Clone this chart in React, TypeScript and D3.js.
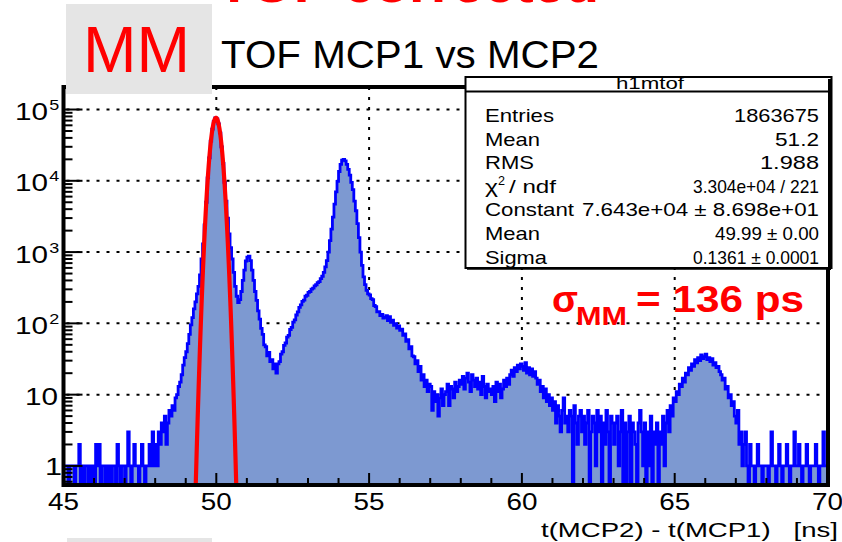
import React from 'react';
import * as d3 from 'd3';

// ---------- data ----------
const X_MIN = 45;
const X_MAX = 70;
const BIN_WIDTH = 0.05;
const Y_MIN = 0.54;
const Y_MAX = 2.07e5;

// bin contents, 0.05 ns bins
const counts45to50 = [
  1, 1, 1, 0, 1, 1, 1, 0, 1, 1,
  2, 0, 1, 0, 1, 1, 0, 1, 0, 1,
  0, 2, 1, 2, 0, 1, 1, 0, 1, 0,
  1, 0, 1, 1, 0, 2, 1, 0, 1, 1,
  0, 1, 3, 1, 0, 1, 2, 1, 1, 0,
  1, 2, 1, 0, 1, 1, 2, 1, 3, 1,
  2, 1, 3, 2, 4, 3, 5, 2, 4, 6,
  5, 7, 6, 9, 10, 13, 15, 19, 26, 33,
  40, 52, 70, 95, 120, 160, 200, 260, 330, 480,
  800, 1300, 2400, 5000, 11000, 21000, 36000, 53000, 68000, 76500,
];
const counts50to55 = [
  74000, 63000, 47000, 30000, 17500, 9500, 5200, 3000, 1800, 1150,
  800, 520, 330, 240, 196, 215, 280, 400, 560, 750,
  850, 880, 760, 560, 400, 280, 210, 150, 115, 85,
  70, 50, 47, 35, 39, 29, 31, 23, 27, 20,
  27, 29, 37, 40, 49, 53, 64, 68, 82, 88,
  104, 112, 131, 145, 168, 182, 203, 212, 240, 248,
  272, 280, 302, 312, 335, 348, 372, 386, 425, 458,
  520, 620, 760, 1000, 1450, 2100, 3100, 4700, 7000, 9800,
  13500, 17000, 19500, 20000, 19000, 17000, 14500, 12000, 9500, 7500,
  5200, 3800, 2500, 1600, 1000, 650, 450, 350, 290, 260,
];
const counts55to60 = [
  250, 222, 215, 178, 172, 145, 146, 128, 134, 119,
  121, 128, 109, 124, 103, 111, 94, 99, 86, 92,
  80, 83, 68, 71, 56, 59, 44, 47, 35, 34,
  27, 30, 21, 25, 16, 19, 13, 16, 11, 14,
  13, 6, 11, 8, 10, 5, 9, 12, 7, 10,
  11, 14, 7, 13, 12, 9, 15, 11, 13, 16,
  14, 18, 12, 17, 20, 15, 11, 19, 16, 13,
  17, 12, 15, 10, 18, 13, 9, 14, 11, 12,
  10, 13, 8, 15, 11, 14, 9, 12, 16, 13,
  17, 14, 19, 22, 18, 24, 21, 26, 23, 27,
];
const counts60to65 = [
  25, 22, 28, 20, 24, 19, 23, 18, 21, 17,
  14, 16, 11, 13, 9, 12, 8, 10, 7, 9,
  6, 8, 4, 7, 5, 3, 6, 9, 4, 5,
  3, 6, 5, 0, 7, 4, 2, 5, 6, 3,
  5, 2, 4, 6, 0, 3, 5, 4, 1, 6,
  3, 5, 0, 4, 2, 6, 3, 0, 5, 4,
  2, 4, 5, 1, 3, 6, 0, 4, 0, 3,
  5, 0, 4, 3, 2, 0, 4, 6, 3, 1,
  4, 0, 3, 1, 5, 0, 3, 2, 4, 0,
  3, 2, 5, 1, 4, 6, 3, 7, 5, 9,
];
const counts65to70 = [
  8, 11, 10, 14, 13, 17, 15, 20, 19, 24,
  22, 27, 25, 31, 28, 33, 30, 36, 32, 34,
  37, 31, 33, 29, 32, 26, 28, 24, 25, 21,
  19, 16, 17, 12, 13, 9, 10, 7, 8, 5,
  4, 6, 2, 3, 1, 2, 3, 1, 0, 2,
  1, 1, 0, 1, 2, 1, 1, 0, 1, 1,
  1, 0, 1, 3, 1, 1, 0, 1, 2, 1,
  0, 1, 1, 2, 1, 0, 1, 1, 3, 1,
  1, 2, 1, 0, 1, 1, 2, 1, 0, 1,
  1, 1, 2, 1, 0, 1, 1, 3, 1, 1,
];

const X_TICKS = [45, 50, 55, 60, 65, 70];
const X_GRID = [50, 55, 60, 65];
const Y_EXPONENTS = [0, 1, 2, 3, 4, 5];

// Gaussian fit parameters
const FIT_CONSTANT = 7.643e4;
const FIT_MEAN = 49.99;
const FIT_SIGMA = 0.1361;

const STATS_TITLE = 'h1mtof';
const STATS_LABELS = ['Entries', 'Mean', 'RMS', 'χ2 / ndf', 'Constant', 'Mean', 'Sigma'];
const STATS_VALUES = [
  '1863675',
  '51.2',
  '1.988',
  '3.304e+04 / 221',
  '7.643e+04 ± 8.698e+01',
  '49.99 ± 0.00',
  '0.1361 ± 0.0001',
];

const TITLE = 'TOF MCP1 vs MCP2';
const X_TITLE = 't(MCP2) - t(MCP1)   [ns]';
const PAD_LABEL = 'MM';
const TOP_LABEL = 'TOF corrected';
const SIGMA_VALUE = '= 136 ps';

// ---------- style ----------
const FONT = '"Liberation Sans", Arial, Helvetica, sans-serif';
const LABEL_W = [69, 55, 49, 72, 89, 55, 62];
const VALUE_W = [85, 44, 59, 126, 237, 104, 126];

type TxtProps = {
  x: number;
  y: number;
  w: number;
  size: number;
  anchor?: 'start' | 'middle' | 'end';
  fill?: string;
  weight?: string;
  pre?: boolean;
  children: React.ReactNode;
};

function Txt({ x, y, w, size, anchor = 'start', fill = '#000', weight = 'normal', pre, children }: TxtProps) {
  const start = anchor === 'start' ? x : anchor === 'end' ? x - w : x - w / 2;
  return (
    <text
      x={start}
      y={y}
      fontSize={size}
      textLength={w}
      lengthAdjust="spacingAndGlyphs"
      fill={fill}
      fontWeight={weight}
      fontFamily={FONT}
      style={pre ? { whiteSpace: 'pre' } : undefined}
    >
      {children}
    </text>
  );
}

export default function App() {
  const counts = [...counts45to50, ...counts50to55, ...counts55to60, ...counts60to65, ...counts65to70];

  const left = 63.5;
  const right = 827.5;
  const top = 87;
  const bottom = 485;

  const x = d3.scaleLinear().domain([X_MIN, X_MAX]).range([left, right]);
  const y = d3.scaleLog().domain([Y_MIN, Y_MAX]).range([bottom, top]);
  const yc = (v: number) => y(Math.max(v, Y_MIN));

  let hist = `M${x(X_MIN)},${bottom}`;
  counts.forEach((c, i) => {
    const x1 = x(X_MIN + (i + 1) * BIN_WIDTH);
    hist += `V${yc(c)}H${x1}`;
  });
  hist += `V${bottom}`;

  const gaus = (t: number) => FIT_CONSTANT * Math.exp(-0.5 * ((t - FIT_MEAN) / FIT_SIGMA) ** 2);
  const fitXs = d3.range(49.0, 51.0, 0.003);
  const fitLine = d3
    .line<number>()
    .x((t) => x(t))
    .y((t) => y(Math.max(gaus(t), 0.05)))(fitXs) as string;

  // ticks
  const xMinor: number[] = d3.range(X_MIN, X_MAX + 0.001, 1).filter((v) => !X_TICKS.includes(v));
  const yMinor: number[] = [];
  for (let k = -1; k <= 5; k++) {
    for (let m = 2; m <= 9; m++) {
      const v = m * Math.pow(10, k);
      if (v >= Y_MIN && v <= Y_MAX) yMinor.push(v);
    }
  }

  const statsBase = (i: number) => 122 + 23.6 * i;

  return (
    <svg
      width={842}
      height={542}
      style={{ position: 'absolute', left: 0, top: 0, background: '#fff' }}
      fontFamily={FONT}
    >
      <defs>
        <clipPath id="plotClip">
          <rect x={left} y={top} width={right - left} height={bottom - top} />
        </clipPath>
      </defs>
      <rect x={0} y={0} width={842} height={542} fill="#fff" />

      {/* red text cut at top */}
      <Txt x={217} y={2} w={382} size={52} fill="#ff0000" weight="bold">
        {TOP_LABEL}
      </Txt>

      {/* grid */}
      <g stroke="#000" strokeWidth={2} strokeDasharray="3 7">
        {Y_EXPONENTS.map((k) => (
          <line key={`gy${k}`} x1={left + 3} x2={right} y1={y(Math.pow(10, k))} y2={y(Math.pow(10, k))} />
        ))}
        {X_GRID.map((v) => (
          <line key={`gx${v}`} x1={x(v)} x2={x(v)} y1={top} y2={bottom} />
        ))}
      </g>

      {/* histogram */}
      <g clipPath="url(#plotClip)">
        <path d={hist + 'Z'} fill="#7d99d1" stroke="none" />
        <path d={hist} fill="none" stroke="#0000ff" strokeWidth={2.8} strokeLinejoin="miter" />
        <path d={fitLine} fill="none" stroke="#ff0000" strokeWidth={4.2} />
      </g>

      {/* frame */}
      <rect x={left} y={top} width={right - left + 0.5} height={bottom - top} fill="none" stroke="#000" strokeWidth={4} />

      {/* ticks */}
      <g stroke="#000" strokeWidth={2}>
        {X_TICKS.map((v) => (
          <line key={`xt${v}`} x1={x(v)} x2={x(v)} y1={bottom} y2={bottom - 12} />
        ))}
        {xMinor.map((v) => (
          <line key={`xm${v}`} x1={x(v)} x2={x(v)} y1={bottom} y2={bottom - 7} />
        ))}
        {Y_EXPONENTS.map((k) => (
          <line key={`yt${k}`} x1={left} x2={left + 19} y1={y(Math.pow(10, k))} y2={y(Math.pow(10, k))} />
        ))}
        {yMinor.map((v, i) => (
          <line key={`ym${i}`} x1={left} x2={left + 9} y1={y(v)} y2={y(v)} />
        ))}
      </g>

      {/* x tick labels */}
      {X_TICKS.map((v) => (
        <Txt key={`xl${v}`} x={x(v)} y={510} w={31} size={23} anchor="middle">
          {String(v)}
        </Txt>
      ))}

      {/* y tick labels */}
      {Y_EXPONENTS.map((k) => {
        const ty = y(Math.pow(10, k));
        if (k === 0)
          return (
            <Txt key={`yl${k}`} x={45} y={ty + 9} w={17} size={23}>
              1
            </Txt>
          );
        if (k === 1)
          return (
            <Txt key={`yl${k}`} x={25} y={ty + 10.5} w={33} size={23}>
              10
            </Txt>
          );
        return (
          <g key={`yl${k}`}>
            <Txt x={15} y={ty + 10.5} w={33} size={23}>
              10
            </Txt>
            <Txt x={49.3} y={ty + 0.5} w={10} size={15}>
              {String(k)}
            </Txt>
          </g>
        );
      })}

      {/* x title */}
      <Txt x={541} y={537} w={297} size={21} pre>
        {X_TITLE}
      </Txt>

      {/* pad label box */}
      <rect x={66} y={4} width={146} height={90} fill="#e5e5e5" />
      <Txt x={83} y={72} w={107} size={64.5} fill="#ff0000">
        {PAD_LABEL}
      </Txt>
      <rect x={67} y={538} width={145} height={6} fill="#e5e5e5" />

      {/* title */}
      <Txt x={221} y={68} w={378} size={38.5}>
        {TITLE}
      </Txt>

      {/* stats box */}
      <rect x={465.5} y={77} width={366} height={191} fill="#fff" stroke="#000" strokeWidth={2} />
      <line x1={829.5} x2={829.5} y1={79} y2={270} stroke="#000" strokeWidth={3} />
      <line x1={467} x2={831} y1={268.5} y2={268.5} stroke="#000" strokeWidth={2.5} />
      <line x1={465.5} x2={831.5} y1={91.5} y2={91.5} stroke="#000" strokeWidth={2} />
      <Txt x={650} y={89} w={68} size={16} anchor="middle">
        {STATS_TITLE}
      </Txt>
      {STATS_LABELS.map((lab, i) => {
        const b = statsBase(i);
        if (lab.startsWith('χ')) {
          return (
            <g key={`sl${i}`}>
              <Txt x={485} y={b} w={13} size={18.5}>
                χ
              </Txt>
              <Txt x={498} y={b - 8} w={7} size={12}>
                2
              </Txt>
              <Txt x={509} y={b} w={47} size={18.5}>
                {lab.slice(3)}
              </Txt>
            </g>
          );
        }
        return (
          <Txt key={`sl${i}`} x={485} y={b} w={LABEL_W[i]} size={18.5}>
            {lab}
          </Txt>
        );
      })}
      {STATS_VALUES.map((val, i) => (
        <Txt key={`sv${i}`} x={819} y={statsBase(i)} w={VALUE_W[i]} size={18.5} anchor="end">
          {val}
        </Txt>
      ))}

      {/* sigma annotation */}
      <Txt x={552} y={312} w={26} size={37} fill="#ff0000" weight="bold">
        σ
      </Txt>
      <Txt x={576} y={325} w={51} size={26} fill="#ff0000" weight="bold">
        {PAD_LABEL}
      </Txt>
      <Txt x={636} y={312} w={168} size={37} fill="#ff0000" weight="bold">
        {SIGMA_VALUE}
      </Txt>
    </svg>
  );
}
